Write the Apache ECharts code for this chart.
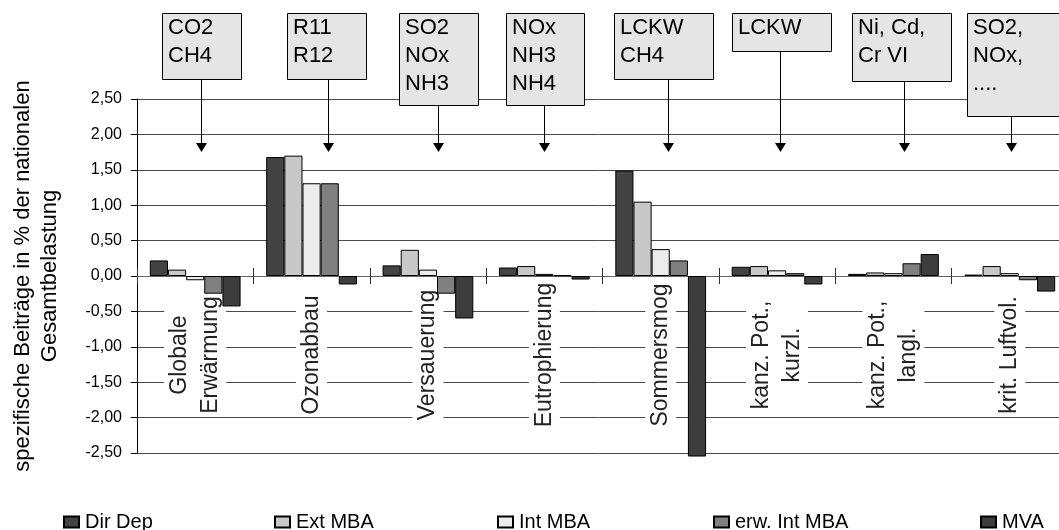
<!DOCTYPE html>
<html>
<head>
<meta charset="utf-8">
<script src="https://cdn.jsdelivr.net/npm/echarts@6/dist/echarts.min.js"></script>
<style>html,body{margin:0;padding:0;background:#fff}#c{width:1059px;height:530px}</style>
</head>
<body>
<div id="c"></div>
<script>
const categories = ['Globale\nErwärmung', 'Ozonabbau', 'Versauerung', 'Eutrophierung', 'Sommersmog', 'kanz. Pot.,\nkurzl.', 'kanz. Pot.,\nlangl.', 'krit. Luftvol.'];
const seriesNames = ['Dir Dep', 'Ext MBA', 'Int MBA', 'erw. Int MBA', 'MVA'];
const dirDep    = [0.22, 1.68, 0.15, 0.12, 1.49, 0.13, 0.03, 0.02];
const extMBA    = [0.09, 1.70, 0.37, 0.14, 1.05, 0.14, 0.05, 0.14];
const intMBA    = [-0.06, 1.31, 0.09, 0.03, 0.38, 0.08, 0.04, 0.04];
const erwIntMBA = [-0.25, 1.31, -0.25, 0.01, 0.22, 0.04, 0.18, -0.06];
const mva       = [-0.43, -0.12, -0.60, -0.05, -2.55, -0.12, 0.31, -0.22];
const yTickLabels = ['-2,50', '-2,00', '-1,50', '-1,00', '-0,50', '0,00', '0,50', '1,00', '1,50', '2,00', '2,50'];
const yAxisTitle = 'spezifische Beiträge in % der nationalen\nGesamtbelastung';
const annotationTexts = ['CO2\nCH4', 'R11\nR12', 'SO2\nNOx\nNH3', 'NOx\nNH3\nNH4', 'LCKW\nCH4', 'LCKW', 'Ni, Cd,\nCr VI', 'SO2,\nNOx,\n....'];

// layout / style (not data)
const FONT = '"Liberation Sans", Arial, Helvetica, sans-serif';
const colors = ['#434343', '#c8c8c8', '#ececec', '#808080', '#3d3d3d'];
const boxLayout = [
  [162, 13, 79, 66, 201], [287, 13, 79, 66, 328], [399, 13, 79, 92, 438], [506, 13, 78, 92, 544],
  [614, 13, 99, 66, 668], [732, 13, 99, 38, 780], [852, 13, 99, 68, 904], [967, 13, 100, 103, 1011]
];
const legendLeft = [63, 274, 497, 713, 980];
const GRID_TOP = 99, GRID_BOTTOM = 77, CHART_H = 530;
const Y_MIN = -2.5, Y_MAX = 2.5;
const plotH = CHART_H - GRID_TOP - GRID_BOTTOM;
const zeroFromBottom = plotH * (0 - Y_MIN) / (Y_MAX - Y_MIN);
const zeroFromTop = plotH - zeroFromBottom;

const chart = echarts.init(document.getElementById('c'), null, {renderer: 'canvas'});

const seriesData = [dirDep, extMBA, intMBA, erwIntMBA, mva];
const series = seriesNames.map((n, i) => ({
  name: n, type: 'bar', data: seriesData[i], xAxisIndex: 0, yAxisIndex: 0,
  barGap: '0%', barCategoryGap: '22%', clip: false, z: 3,
  itemStyle: {color: colors[i], borderColor: '#000', borderWidth: 1},
  emphasis: {disabled: true}
}));

const graphics = [];
boxLayout.forEach((b, i) => {
  const [x, y, w, h, ax] = b;
  graphics.push({
    type: 'line', z: 50, silent: true,
    shape: {x1: ax + 0.5, y1: y + h, x2: ax + 0.5, y2: 144},
    style: {stroke: '#000', lineWidth: 1}
  });
  graphics.push({
    type: 'polygon', z: 50, silent: true,
    shape: {points: [[ax - 5, 143], [ax + 6, 143], [ax + 0.5, 152]]},
    style: {fill: '#000'}
  });
  graphics.push({
    type: 'rect', z: 60, silent: true,
    shape: {x: x + 0.5, y: y + 0.5, width: w, height: h},
    style: {fill: '#e5e5e5', stroke: '#000', lineWidth: 1}
  });
  graphics.push({
    type: 'text', z: 61, silent: true,
    x: x + 6, y: y + 1,
    style: {text: annotationTexts[i], fontSize: 22, fontFamily: FONT, lineHeight: 28,
            fill: '#000', verticalAlign: 'top', align: 'left'}
  });
});

const legends = seriesNames.map((n, i) => ({
  data: [n], left: legendLeft[i], top: 512, padding: 0,
  itemWidth: 15, itemHeight: 11, icon: 'rect', itemGap: 0,
  selectedMode: false,
  textStyle: {fontSize: 20, fontFamily: FONT, color: '#000', padding: [0, 0, 0, 1]}
}));

chart.setOption({
  animation: false,
  backgroundColor: '#fff',
  textStyle: {fontFamily: FONT},
  grid: {left: 137, right: -9, top: GRID_TOP, bottom: GRID_BOTTOM, containLabel: false, outerBoundsMode: 'none'},
  legend: legends,
  xAxis: [{
    type: 'category', data: categories, position: 'bottom', offset: -zeroFromBottom, z: 1,
    axisLine: {show: true, onZero: false, lineStyle: {color: '#666', width: 1}},
    axisTick: {show: true, inside: false, length: 8, lineStyle: {color: '#333'}},
    axisLabel: {
      rotate: 90, margin: 79, align: 'center', verticalAlign: 'middle',
      fontSize: 23, fontFamily: FONT, color: '#222', lineHeight: 31,
      backgroundColor: '#fff', padding: [0, 2, 0, 2], interval: 0
    },
    splitLine: {show: false}
  }, {
    type: 'category', data: categories, position: 'top', offset: -zeroFromTop, z: 1,
    axisLine: {show: false, onZero: false},
    axisTick: {show: true, inside: false, length: 8, lineStyle: {color: '#333'}},
    axisLabel: {show: false},
    splitLine: {show: false}
  }],
  yAxis: [{
    type: 'value', min: Y_MIN, max: Y_MAX, interval: 0.5, z: 0,
    name: yAxisTitle, nameLocation: 'middle', nameRotate: 90, nameGap: 74,
    nameTextStyle: {fontSize: 22, fontFamily: FONT, color: '#000', lineHeight: 27, align: 'center'},
    axisLine: {show: true, onZero: false, lineStyle: {color: '#000', width: 1}},
    axisTick: {show: true, inside: false, length: 6, lineStyle: {color: '#000'}},
    axisLabel: {
      margin: 15, fontSize: 16, fontFamily: FONT, color: '#000',
      formatter: (v, idx) => yTickLabels[idx]
    },
    splitLine: {show: true, lineStyle: {color: '#4a4a4a', width: 1}}
  }],
  series: series,
  graphic: graphics
});
</script>
</body>
</html>
